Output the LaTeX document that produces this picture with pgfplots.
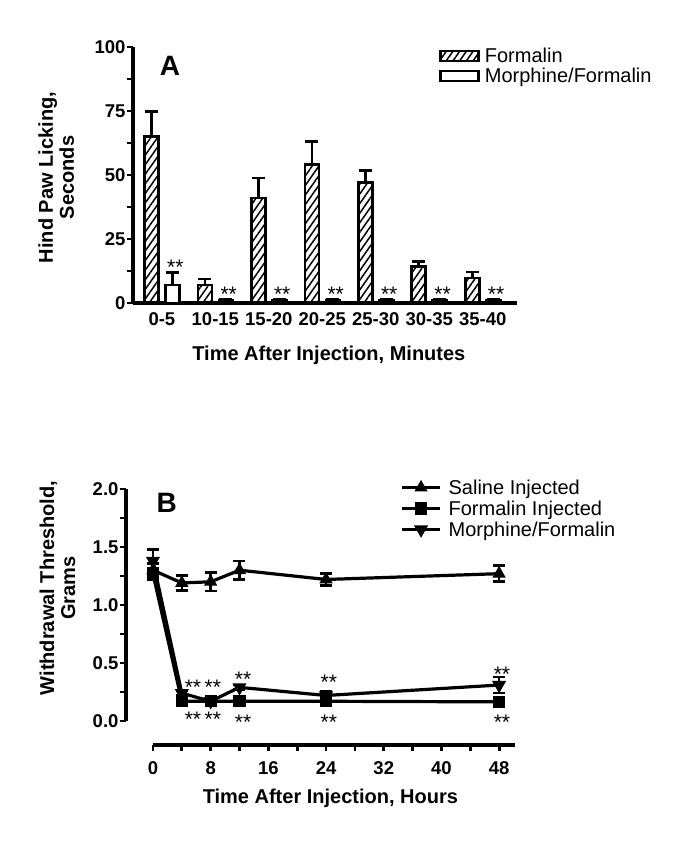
\documentclass[border=0pt]{standalone}
\usepackage{fontspec}
\setmainfont{Liberation Sans}
\usepackage{pgfplots}
\pgfplotsset{compat=1.18}
\usetikzlibrary{patterns.meta}

\newcommand{\lbl}{\bfseries\fontsize{20}{21}\selectfont}
\newcommand{\tkl}{\bfseries\fontsize{18.5}{19}\selectfont}
\newcommand{\leg}{\fontsize{20}{22}\selectfont}

\pgfplotsset{
  barleg/.style={legend image code/.code={\draw[##1, line width=2.6pt] (0pt,-5pt) rectangle (38pt,5pt);}},
  lineleg/.style={legend image code/.code={\draw[mark repeat=2, mark phase=2, ##1] plot coordinates {(0pt,0pt) (19pt,0pt) (38pt,0pt)};}},
  thickaxes/.style={
    axis line style={-, line width=3.4pt},
    every outer x axis line/.append style={line width=3.4pt},
    every outer y axis line/.append style={line width=3.4pt},
    every inner x axis line/.append style={line width=3.4pt},
    every inner y axis line/.append style={line width=3.4pt},
    every tick/.append style={line width=2.8pt, black},
    every minor tick/.append style={line width=2.8pt, black},
  },
  ebar/.style 2 args={error bars/.cd, y explicit, y dir=#2,
    error bar style={line width=2.6pt},
    error mark options={rotate=90, line width=2.6pt, mark size=#1}},
}
\tikzset{
  stars/.style={font=\fontsize{21}{21}\selectfont, yshift=-4.5pt},
  hatch/.style={pattern={Lines[angle=55,distance=5.5pt,line width=1.5pt]}},
}

\begin{document}
\begin{tikzpicture}
\useasboundingbox (0pt,0pt) rectangle (685pt,842pt);

% ---- panel A
\begin{axis}[
  at={(133pt,539pt)}, anchor=south west,
  scale only axis, width=384pt, height=256pt,
  xmin=-0.54, xmax=6.64, ymin=0, ymax=100,
  axis lines=left, thickaxes,
  ybar, bar width=14pt,
  ytick={0,25,50,75,100}, minor ytick={12.5,37.5,62.5,87.5},
  xtick={0,...,6}, xticklabels={0-5,10-15,15-20,20-25,25-30,30-35,35-40},
  xtick style={draw=none},
  tick align=outside,
  major tick length=6pt, minor tick length=6pt,
  ticklabel style={font=\tkl}, /pgf/number format/assume math mode=true,
  yticklabel style={xshift=2pt},
  xlabel={Time After Injection, Minutes},
  ylabel={Hind Paw Licking,\\Seconds},
  label style={font=\lbl},
  ylabel style={align=center, at={(axis description cs:-0.2,0.49)}, anchor=center},
  xlabel style={at={(axis description cs:0.51,-0.203)}, anchor=center},
  clip=false,
  legend style={at={(axis description cs:0.797,1.004)}, anchor=north west,
    draw=none, fill=none, font=\leg, inner sep=0pt, row sep=0pt,
    /tikz/every odd column/.append style={column sep=3pt}},
  legend cell align=left,
]
\addplot[bar shift=-10.5pt, draw=black, line width=2.6pt, hatch, barleg,
  ebar={6.5pt}{plus}]
  coordinates {(0,65) +- (0,9.7) (1,7) +- (0,2.4) (2,41) +- (0,7.8) (3,54) +- (0,9)
               (4,47) +- (0,4.7) (5,14.2) +- (0,1.9) (6,9.8) +- (0,2.3)};
\addlegendentry{Formalin}
\addplot[bar shift=10.5pt, draw=black, fill=white, line width=2.6pt, barleg,
  ebar={6.5pt}{plus}]
  coordinates {(0,7) +- (0,5) (1,1) +- (0,0.6) (2,1) +- (0,0.6) (3,1) +- (0,0.6)
               (4,1) +- (0,0.6) (5,1) +- (0,0.6) (6,1) +- (0,0.6)};
\addlegendentry{Morphine/Formalin}
\node[stars] at (axis cs:0.25,15.6) {**};
\node[stars] at (axis cs:1.25,5.1) {**};
\node[stars] at (axis cs:2.25,5.1) {**};
\node[stars] at (axis cs:3.25,5.1) {**};
\node[stars] at (axis cs:4.25,5.1) {**};
\node[stars] at (axis cs:5.25,5.1) {**};
\node[stars] at (axis cs:6.25,5.1) {**};
\node[font=\bfseries\fontsize{28}{28}\selectfont] at (axis cs:0.15,92.5) {A};
\end{axis}

% ---- panel B, data and y axis
\begin{axis}[
  at={(126pt,121pt)}, anchor=south west,
  scale only axis, width=389pt, height=232pt,
  xmin=-3.74, xmax=50.21, ymin=0, ymax=2,
  axis y line=left, axis x line=none, thickaxes,
  xtick=\empty,
  ytick={0,0.5,1,1.5,2}, minor ytick={0.25,0.75,1.25,1.75},
  yticklabel style={xshift=2pt, /pgf/number format/.cd, fixed, fixed zerofill, precision=1},
  tick align=outside,
  major tick length=6pt, minor tick length=6pt,
  ticklabel style={font=\tkl}, /pgf/number format/assume math mode=true,
  ylabel={Withdrawal Threshold,\\Grams},
  label style={font=\lbl},
  ylabel style={align=center, at={(axis description cs:-0.176,0.573)}, anchor=center},
  clip=false,
  legend style={at={(axis description cs:0.705,1.05)}, anchor=north west,
    draw=none, fill=none, font=\leg, inner sep=0pt, row sep=1pt,
    /tikz/every odd column/.append style={column sep=5pt}},
  legend cell align=left,
]
\addplot[black, line width=3.2pt, mark=triangle*, mark size=4.5pt, lineleg,
  ebar={6pt}{both}]
  coordinates {(0,1.30) +- (0,0.06) (4,1.19) +- (0,0.065) (8,1.20) +- (0,0.08)
               (12,1.30) +- (0,0.08) (24,1.22) +- (0,0.05) (48,1.27) +- (0,0.07)};
\addlegendentry{Saline Injected}
\addplot[black, line width=3.2pt, mark=square*, mark size=4.5pt, lineleg,
  ebar={6pt}{both}]
  coordinates {(0,1.27) +- (0,0.05) (4,0.17) +- (0,0.01) (8,0.17) +- (0,0.01)
               (12,0.17) +- (0,0.01) (24,0.17) +- (0,0.01) (48,0.165) +- (0,0.01)};
\addlegendentry{Formalin Injected}
\addplot[black, line width=3.2pt, mark=triangle*, mark size=5pt, mark options={rotate=180}, lineleg,
  ebar={6pt}{both}]
  coordinates {(0,1.38) +- (0,0.1) (4,0.24) +- (0,0.02) (8,0.17) +- (0,0.02)
               (12,0.29) +- (0,0.02) (24,0.22) +- (0,0.04) (48,0.31) +- (0,0.07)};
\addlegendentry{Morphine/Formalin}
\node[stars] at (axis cs:5.55,0.326) {**};
\node[stars] at (axis cs:8.3,0.326) {**};
\node[stars] at (axis cs:12.5,0.395) {**};
\node[stars] at (axis cs:24.4,0.37) {**};
\node[stars] at (axis cs:48.4,0.44) {**};
\node[stars] at (axis cs:5.55,0.05) {**};
\node[stars] at (axis cs:8.3,0.05) {**};
\node[stars] at (axis cs:12.5,0.03) {**};
\node[stars] at (axis cs:24.4,0.03) {**};
\node[stars] at (axis cs:48.4,0.03) {**};
\node[font=\bfseries\fontsize{28}{28}\selectfont] at (axis cs:1.9,1.88) {B};
\end{axis}

% ---- panel B, x axis set apart below
\begin{axis}[
  at={(153pt,97pt)}, anchor=south west,
  scale only axis, width=362pt, height=10pt,
  xmin=0, xmax=50.2, ymin=0, ymax=1,
  axis x line=bottom, axis y line=none, thickaxes,
  xtick={0,8,...,48}, minor xtick={4,12,...,44},
  tick align=outside,
  major tick length=6pt, minor tick length=6pt,
  ticklabel style={font=\tkl}, /pgf/number format/assume math mode=true,
  xticklabel style={yshift=-7pt},
  xlabel={Time After Injection, Hours},
  label style={font=\lbl},
  xlabel style={at={(axis description cs:0.49,0)}, anchor=center, yshift=-53pt},
]
\end{axis}
\end{tikzpicture}
\end{document}
